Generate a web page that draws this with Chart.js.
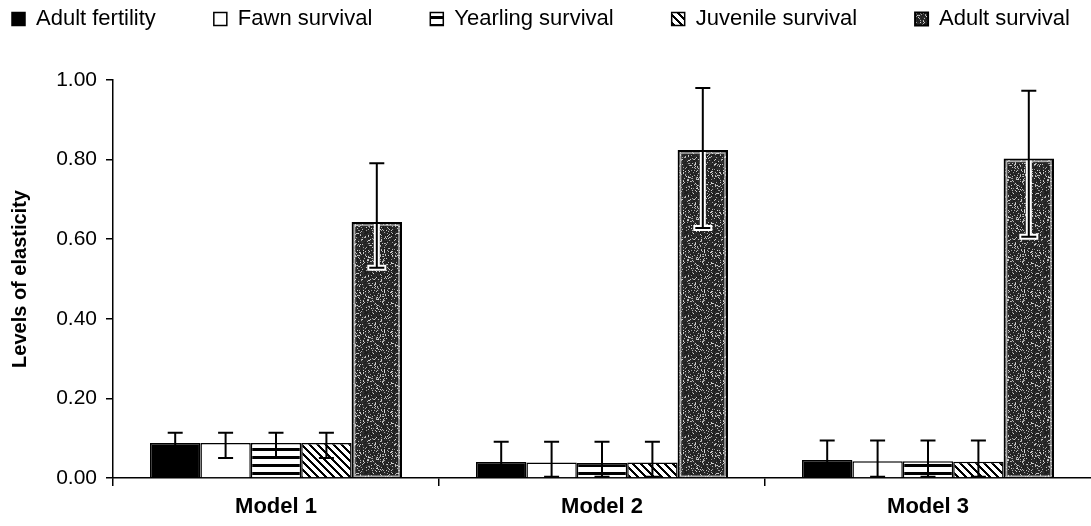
<!DOCTYPE html>
<html>
<head>
<meta charset="utf-8">
<script src="https://cdn.jsdelivr.net/npm/chart.js@4.4.1/dist/chart.umd.min.js"></script>
<style>
html,body{margin:0;padding:0;background:#fff;}
#wrap{width:1091px;height:526px;}
</style>
</head>
<body>
<div id="wrap"><canvas id="c" width="1091" height="526"></canvas></div>
<script>
// ---------- data ----------
const categories = ['Model 1', 'Model 2', 'Model 3'];
const seriesNames = ['Adult fertility', 'Fawn survival', 'Yearling survival', 'Juvenile survival', 'Adult survival'];

const adultFertility   = [0.088, 0.040, 0.045];
const fawnSurvival     = [0.088, 0.039, 0.042];
const yearlingSurvival = [0.088, 0.038, 0.042];
const juvenileSurvival = [0.088, 0.039, 0.041];
const adultSurvival    = [0.643, 0.824, 0.803];

const adultFertilityLow    = [0.050, 0.003, 0.003];
const adultFertilityHigh   = [0.114, 0.091, 0.094];
const fawnSurvivalLow      = [0.050, 0.003, 0.003];
const fawnSurvivalHigh     = [0.114, 0.091, 0.094];
const yearlingSurvivalLow  = [0.050, 0.003, 0.003];
const yearlingSurvivalHigh = [0.114, 0.091, 0.094];
const juvenileSurvivalLow  = [0.050, 0.003, 0.003];
const juvenileSurvivalHigh = [0.114, 0.091, 0.094];
const adultSurvivalLow     = [0.528, 0.628, 0.606];
const adultSurvivalHigh    = [0.791, 0.980, 0.973];

const yMin = 0, yMax = 1, yStep = 0.2;

// ---------- patterns ----------
const mainCtx = document.getElementById('c').getContext('2d');
function makePattern(w, h, draw) {
  const c = document.createElement('canvas');
  c.width = w; c.height = h;
  const g = c.getContext('2d');
  draw(g, w, h);
  return mainCtx.createPattern(c, 'repeat');
}
const patHStripes = makePattern(8, 8, (g) => {
  g.fillStyle = '#fff'; g.fillRect(0, 0, 8, 8);
  g.fillStyle = '#000'; g.fillRect(0, 0, 8, 3);
});
const patDiag = makePattern(8, 8, (g) => {
  const im = g.createImageData(8, 8);
  for (let y = 0; y < 8; y++) for (let x = 0; x < 8; x++) {
    const on = ((x - y + 16) % 8) < 3;
    const v = on ? 0 : 255, k = (y * 8 + x) * 4;
    im.data[k] = im.data[k + 1] = im.data[k + 2] = v; im.data[k + 3] = 255;
  }
  g.putImageData(im, 0, 0);
});
const patStipple = makePattern(40, 40, (g) => {
  const im = g.createImageData(40, 40);
  for (let y = 0; y < 40; y++) for (let x = 0; x < 40; x++) {
    let h = Math.imul(x + 1, 73856093) ^ Math.imul(y + 7, 19349663);
    h = Math.imul(h ^ (h >>> 13), 1274126177);
    h ^= h >>> 16;
    const r = (h >>> 0) % 100;
    const v = r < 18 ? 150 + (r * 4) : 25 + (r % 25);
    const k = (y * 40 + x) * 4;
    im.data[k] = im.data[k + 1] = im.data[k + 2] = v; im.data[k + 3] = 255;
  }
  g.putImageData(im, 0, 0);
});

// ---------- plugins ----------
const errorBars = {
  id: 'errorBars',
  afterDatasetsDraw(chart) {
    const ctx = chart.ctx, y = chart.scales.y;
    chart.data.datasets.forEach((ds, di) => {
      const meta = chart.getDatasetMeta(di);
      meta.data.forEach((bar, i) => {
        const x = bar.x;
        const yl = y.getPixelForValue(ds.errLow[i]);
        const yh = y.getPixelForValue(ds.errHigh[i]);
        const cap = 7.5;
        ctx.save();
        if (ds.halo) {
          const p = bar.getProps(['x', 'y', 'base', 'width'], true);
          ctx.strokeStyle = 'rgba(230,230,230,0.7)';
          ctx.lineWidth = 1.5;
          ctx.strokeRect(p.x - p.width / 2 + 3, p.y + 3, p.width - 6, p.base - p.y - 4);
          ctx.strokeStyle = '#fff';
          ctx.lineWidth = 6;
          ctx.beginPath();
          ctx.moveTo(x, bar.y + 2); ctx.lineTo(x, yl);
          ctx.moveTo(x - cap - 2, yl); ctx.lineTo(x + cap + 2, yl);
          ctx.stroke();
        }
        ctx.strokeStyle = '#000';
        ctx.lineWidth = 2;
        ctx.beginPath();
        ctx.moveTo(x, yl); ctx.lineTo(x, yh);
        ctx.moveTo(x - cap, yh); ctx.lineTo(x + cap, yh);
        ctx.moveTo(x - cap, yl); ctx.lineTo(x + cap, yl);
        ctx.stroke();
        ctx.restore();
      });
    });
  }
};

const LEGEND_FONT = 22, LEGEND_PAD = 58, LEGEND_CENTER_Y = 19, LEGEND_H = 80, LEGEND_X0 = 12;
const legendPlace = {
  id: 'legendPlace',
  beforeLayout(chart) {
    const lg = chart.legend;
    if (lg && !lg.__patched) {
      const orig = lg.fit.bind(lg);
      lg.fit = function () {
        const mw = this.maxWidth;
        this.maxWidth = 5000;
        orig();
        this.maxWidth = mw;
        this.width = mw;
        this.height = LEGEND_H;
      };
      lg.__patched = true;
    }
  },
  afterLayout(chart) {
    const lg = chart.legend;
    if (lg) {
      lg.top = LEGEND_CENTER_Y - LEGEND_PAD - LEGEND_FONT / 2;
      lg.left = LEGEND_X0 - LEGEND_PAD;
      lg.right = 5000;
    }
  }
};

// ---------- chart ----------
const FONT = "'Liberation Sans', Arial, Helvetica, sans-serif";
function ds(label, data, bg, low, high, extra) {
  return Object.assign({
    label, data, backgroundColor: bg, borderColor: '#000', borderWidth: 1.5,
    errLow: low, errHigh: high,
    barPercentage: 1.0, categoryPercentage: 0.773
  }, extra || {});
}

new Chart(mainCtx, {
  type: 'bar',
  data: {
    labels: categories,
    datasets: [
      ds(seriesNames[0], adultFertility, '#000', adultFertilityLow, adultFertilityHigh),
      ds(seriesNames[1], fawnSurvival, '#fff', fawnSurvivalLow, fawnSurvivalHigh),
      ds(seriesNames[2], yearlingSurvival, patHStripes, yearlingSurvivalLow, yearlingSurvivalHigh),
      ds(seriesNames[3], juvenileSurvival, patDiag, juvenileSurvivalLow, juvenileSurvivalHigh),
      ds(seriesNames[4], adultSurvival, patStipple, adultSurvivalLow, adultSurvivalHigh, { halo: true, borderWidth: 2 })
    ]
  },
  options: {
    responsive: false,
    animation: false,
    devicePixelRatio: 1,
    layout: { padding: { left: 0, right: 0, top: 0, bottom: 0 } },
    plugins: {
      legend: {
        position: 'top',
        align: 'start',
        labels: {
          boxWidth: 13, boxHeight: 13, padding: LEGEND_PAD, color: '#000',
          font: { family: FONT, size: LEGEND_FONT }
        }
      },
      tooltip: { enabled: false }
    },
    scales: {
      x: {
        afterFit(s) { s.height = 48; },
        grid: {
          display: true, drawOnChartArea: false, drawTicks: true, tickLength: 8, lineWidth: 1.5, offset: true,
          color: (c) => ((c.index === undefined || c.index >= categories.length) ? 'rgba(0,0,0,0)' : '#000')
        },
        border: { display: true, color: '#000', width: 1.5 },
        ticks: { color: '#000', padding: 8, font: { family: FONT, size: 22, weight: 'bold' } }
      },
      y: {
        min: yMin, max: yMax,
        afterFit(s) { s.width = 113; },
        grid: { display: true, drawOnChartArea: false, drawTicks: true, tickLength: 7, color: '#000', lineWidth: 1.5 },
        border: { display: true, color: '#000', width: 1.5 },
        ticks: {
          stepSize: yStep, color: '#000', padding: 9,
          font: { family: FONT, size: 21 },
          callback: (v) => Number(v).toFixed(2)
        },
        title: {
          display: true, text: 'Levels of elasticity', color: '#000',
          padding: { top: 8, bottom: 0 },
          font: { family: FONT, size: 20, weight: 'bold' }
        }
      }
    }
  },
  plugins: [legendPlace, errorBars]
});
</script>
</body>
</html>
